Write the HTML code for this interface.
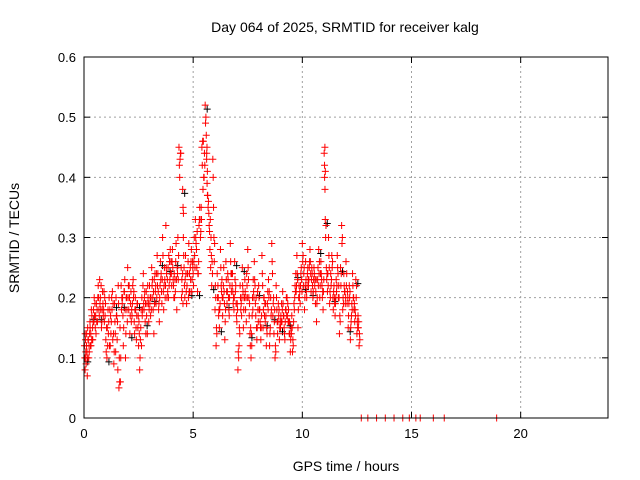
<!DOCTYPE html>
<html><head><meta charset="utf-8"><style>
html,body{margin:0;padding:0;background:#fff;}
svg{display:block;font-family:"Liberation Sans",sans-serif;}
</style></head><body>
<svg id="chart" width="640" height="480" viewBox="0 0 640 480">
<text x="345" y="32" text-anchor="middle" font-size="14">Day 064 of 2025, SRMTID for receiver kalg</text>
<text x="346" y="471" text-anchor="middle" font-size="14">GPS time / hours</text>
<text transform="translate(19,238) rotate(-90)" text-anchor="middle" font-size="14">SRMTID / TECUs</text>
<g id="grid"></g><g id="ticks"></g><g id="marks"></g>
<rect x="84" y="57" width="524" height="361" fill="none" stroke="#000" stroke-width="1"/>
</svg>
<script>
const xTicks=[0,5,10,15,20];
const yTicks=[0,0.1,0.2,0.3,0.4,0.5,0.6];
const yTickLabels=["0","0.1","0.2","0.3","0.4","0.5","0.6"];
const times=[0.02,0.05,0.08,0.12,0.15,0.2,0.24,0.28,0.32,0.36,0.4,0.45,0.5,0.55,0.6,0.65,0.7,0.75,0.8,0.85,0.9,0.95,
1.0,1.05,1.1,1.15,1.2,1.25,1.3,1.35,1.4,1.45,1.5,1.55,1.6,1.65,1.7,1.75,1.8,1.85,1.9,1.95,
2.0,2.05,2.1,2.15,2.2,2.25,2.3,2.35,2.4,2.45,2.5,2.55,2.6,2.65,2.7,2.75,2.8,2.85,2.9,2.95,
3.0,3.05,3.1,3.15,3.2,3.25,3.3,3.35,3.4,3.45,3.5,3.55,3.6,3.65,3.7,3.75,3.8,3.85,3.9,3.95,
4.0,4.05,4.1,4.15,4.2,4.25,4.3,4.35,4.4,4.45,4.5,4.52,4.55,4.6,4.65,4.7,4.75,4.8,4.85,4.9,4.95,
5.0,5.05,5.1,5.15,5.2,5.25,5.3,5.35,5.4,5.45,5.5,5.55,5.6,5.62,5.65,5.7,5.75,5.8,5.85,5.9,5.95,
6.0,6.05,6.1,6.15,6.2,6.25,6.3,6.35,6.4,6.45,6.5,6.55,6.6,6.65,6.7,6.75,6.8,6.85,6.9,6.95,
7.0,7.05,7.1,7.15,7.2,7.25,7.3,7.35,7.4,7.45,7.5,7.55,7.6,7.65,7.7,7.75,7.8,7.85,7.9,7.95,
8.0,8.05,8.1,8.15,8.2,8.25,8.3,8.35,8.4,8.45,8.5,8.55,8.6,8.65,8.7,8.75,8.8,8.85,8.9,8.95,
9.0,9.05,9.1,9.15,9.2,9.25,9.3,9.35,9.4,9.45,9.5,9.55,9.6,9.65,9.7,9.75,9.8,9.85,9.9,9.95,
10.0,10.05,10.1,10.15,10.2,10.25,10.3,10.35,10.4,10.45,10.5,10.55,10.6,10.65,10.7,10.75,10.8,10.85,10.9,10.95,
11.0,11.02,11.05,11.1,11.15,11.2,11.25,11.3,11.35,11.4,11.45,11.5,11.55,11.6,11.65,11.7,11.75,11.8,11.85,11.9,11.95,
12.0,12.05,12.1,12.15,12.2,12.25,12.3,12.35,12.4,12.45,12.5,12.55,12.6,
12.7,13.0,13.4,13.8,14.2,14.6,14.9,15.2,15.4,16.0,16.5,18.9];
const values=[0.12,0.08,0.1,0.14,0.07,0.13,0.11,0.15,0.12,0.17,0.13,0.16,0.19,0.14,0.18,0.22,0.17,0.2,0.15,0.21,0.18,0.2,
0.13,0.1,0.18,0.2,0.12,0.16,0.21,0.14,0.19,0.11,0.17,0.08,0.05,0.15,0.22,0.19,0.12,0.21,0.1,0.2,
0.25,0.18,0.14,0.21,0.17,0.23,0.16,0.2,0.13,0.19,0.12,0.08,0.15,0.2,0.22,0.18,0.16,0.21,0.14,0.19,
0.22,0.17,0.25,0.2,0.14,0.24,0.19,0.27,0.21,0.16,0.26,0.21,0.3,0.18,0.23,0.32,0.2,0.25,0.22,0.28,
0.24,0.28,0.22,0.2,0.26,0.18,0.3,0.45,0.43,0.25,0.21,0.38,0.3,0.22,0.27,0.19,0.24,0.29,0.21,0.26,0.23,
0.24,0.3,0.33,0.28,0.21,0.26,0.35,0.31,0.45,0.38,0.4,0.52,0.47,0.44,0.41,0.36,0.31,0.25,0.22,0.43,0.3,
0.18,0.12,0.24,0.2,0.15,0.28,0.21,0.17,0.25,0.13,0.26,0.19,0.23,0.17,0.29,0.21,0.24,0.2,0.26,0.22,
0.16,0.08,0.12,0.22,0.19,0.25,0.15,0.2,0.18,0.24,0.28,0.2,0.14,0.1,0.17,0.23,0.26,0.19,0.15,0.21,
0.22,0.18,0.13,0.27,0.15,0.2,0.16,0.12,0.19,0.23,0.12,0.2,0.29,0.17,0.14,0.1,0.22,0.16,0.19,0.13,
0.15,0.19,0.21,0.17,0.13,0.18,0.2,0.16,0.14,0.11,0.14,0.11,0.16,0.2,0.24,0.27,0.15,0.22,0.19,0.25,
0.29,0.22,0.18,0.26,0.2,0.25,0.23,0.28,0.21,0.24,0.21,0.24,0.19,0.16,0.23,0.28,0.2,0.26,0.22,0.18,
0.44,0.4,0.33,0.25,0.21,0.3,0.19,0.24,0.27,0.2,0.22,0.17,0.23,0.27,0.2,0.14,0.25,0.32,0.18,0.24,0.21,
0.26,0.19,0.15,0.22,0.13,0.17,0.24,0.2,0.16,0.23,0.14,0.17,0.12,
0,0,0,0,0,0,0,0,0,0,0,0];
const values2=[0.1,0.13,0.09,0.11,0.15,0.1,0.14,0.12,0.18,0.13,0.16,0.2,0.15,0.19,0.16,0.2,0.23,0.18,0.16,0.19,0.21,0.17,
0.11,0.15,0.14,0.12,0.17,0.2,0.13,0.09,0.16,0.2,0.13,0.22,0.1,0.06,0.18,0.2,0.15,0.23,0.14,0.18,
0.2,0.22,0.17,0.16,0.19,0.2,0.14,0.18,0.17,0.15,0.16,0.1,0.18,0.17,0.24,0.2,0.19,0.17,0.22,0.16,
0.19,0.2,0.22,0.18,0.23,0.21,0.24,0.22,0.18,0.2,0.23,0.19,0.27,0.22,0.2,0.25,0.23,0.2,0.26,0.24,
0.22,0.25,0.2,0.23,0.29,0.25,0.23,0.42,0.44,0.2,0.24,0.35,0.27,0.2,0.24,0.22,0.26,0.21,0.25,0.28,0.26,
0.22,0.27,0.3,0.25,0.24,0.32,0.33,0.35,0.42,0.46,0.44,0.49,0.43,0.39,0.37,0.34,0.28,0.3,0.26,0.4,0.26,
0.22,0.15,0.2,0.17,0.18,0.25,0.23,0.2,0.21,0.16,0.23,0.21,0.2,0.2,0.26,0.24,0.21,0.18,0.23,0.19,
0.19,0.11,0.15,0.2,0.17,0.22,0.18,0.23,0.2,0.22,0.25,0.17,0.12,0.14,0.2,0.21,0.23,0.17,0.13,0.18,
0.2,0.16,0.15,0.24,0.18,0.17,0.19,0.15,0.21,0.2,0.14,0.17,0.26,0.19,0.16,0.12,0.2,0.14,0.17,0.15,
0.17,0.16,0.19,0.15,0.16,0.2,0.17,0.18,0.16,0.13,0.17,0.13,0.19,0.22,0.21,0.24,0.18,0.2,0.22,0.23,
0.26,0.24,0.2,0.23,0.22,0.23,0.25,0.26,0.23,0.22,0.23,0.22,0.21,0.19,0.25,0.24,0.22,0.24,0.2,0.21,
0.42,0.38,0.3,0.23,0.24,0.27,0.21,0.22,0.25,0.18,0.2,0.19,0.21,0.25,0.22,0.17,0.22,0.29,0.2,0.22,0.19,
0.22,0.21,0.17,0.2,0.15,0.19,0.22,0.18,0.18,0.2,0.16,0.15,0.14];
const values3=[0.14,0.11,0.12,0.1,0.13,0.12,0.16,0.14,0.13,0.15,0.18,0.17,0.17,0.16,0.2,0.18,0.19,0.22,0.18,0.17,0.16,0.19,
0.15,0.12,0.16,0.18,0.14,0.18,0.19,0.11,0.14,0.17,0.16,0.19,0.06,0.1,0.2,0.17,0.21,0.18,0.2,0.16,
0.22,0.2,0.19,0.18,0.22,0.21,0.18,0.15,0.19,0.17,0.14,0.13,0.12,0.18,0.19,0.21,0.14,0.19,0.2,0.18,
0.2,0.18,0.23,0.21,0.19,0.22,0.2,0.24,0.19,0.22,0.24,0.23,0.21,0.25,0.22,0.24,0.21,0.27,0.23,0.26,
0.26,0.23,0.24,0.21,0.23,0.24,0.27,0.4,0.44,0.23,0.19,0.34,0.25,0.23,0.21,0.24,0.2,0.24,0.23,0.21,0.25,
0.26,0.25,0.29,0.31,0.24,0.33,0.3,0.33,0.46,0.4,0.42,0.5,0.45,0.37,0.35,0.32,0.33,0.27,0.24,0.35,0.29,
0.2,0.14,0.22,0.18,0.19,0.22,0.2,0.22,0.19,0.18,0.21,0.24,0.18,0.22,0.24,0.22,0.19,0.2,0.21,0.17,
0.18,0.1,0.14,0.18,0.2,0.21,0.2,0.21,0.16,0.2,0.23,0.19,0.15,0.12,0.18,0.2,0.22,0.2,0.15,0.16,
0.18,0.15,0.17,0.22,0.2,0.19,0.17,0.14,0.18,0.21,0.15,0.18,0.24,0.2,0.18,0.11,0.18,0.16,0.18,0.16,
0.16,0.18,0.17,0.14,0.18,0.17,0.19,0.16,0.14,0.15,0.15,0.12,0.18,0.21,0.22,0.23,0.2,0.21,0.24,0.21,
0.27,0.25,0.22,0.21,0.24,0.22,0.26,0.24,0.25,0.2,0.25,0.23,0.23,0.2,0.22,0.26,0.24,0.23,0.21,0.23,
0.45,0.41,0.32,0.24,0.22,0.25,0.2,0.23,0.26,0.21,0.19,0.2,0.22,0.24,0.2,0.16,0.24,0.3,0.19,0.21,0.2,
0.24,0.2,0.19,0.21,0.16,0.18,0.2,0.19,0.17,0.22,0.15,0.16,0.13];
const ns="http://www.w3.org/2000/svg";
const X0=84,X1=608,Y0=418,Y1=57;
const xs=v=>X0+(v/24)*(X1-X0);
const ys=v=>Y0-(v/0.6)*(Y0-Y1);
const grid=document.getElementById('grid'),ticks=document.getElementById('ticks'),marks=document.getElementById('marks');
function mk(tag,a,p){const e=document.createElementNS(ns,tag);for(const k in a)e.setAttribute(k,a[k]);p.appendChild(e);return e;}
xTicks.forEach((t,i)=>{
 const x=xs(t);
 if(t>0){const g=mk('line',{x1:x,y1:Y0,x2:x,y2:Y1,stroke:'#a0a0a0','stroke-dasharray':'2,3'},grid);
 
 }
 mk('line',{x1:x,y1:Y0,x2:x,y2:Y0-6,stroke:'#000'},ticks);
 mk('line',{x1:x,y1:Y1,x2:x,y2:Y1+6,stroke:'#000'},ticks);
 const l=mk('text',{x:x,y:Y0+20,'text-anchor':'middle','font-size':13},ticks);l.textContent=String(t);
 
 
});
yTicks.forEach((t,i)=>{
 const y=ys(t);
 if(t>0&&t<0.6){const g=mk('line',{x1:X0,y1:y,x2:X1,y2:y,stroke:'#a0a0a0','stroke-dasharray':'2,3'},grid);
 
 }
 mk('line',{x1:X0,y1:y,x2:X0+6,y2:y,stroke:'#000'},ticks);
 mk('line',{x1:X1,y1:y,x2:X1-6,y2:y,stroke:'#000'},ticks);
 const l=mk('text',{x:X0-8,y:y+5,'text-anchor':'end','font-size':13},ticks);l.textContent=yTickLabels[i];
 
 
});
function plus(x,y,c){
 return mk('path',{d:`M${x-3.5},${y}H${x+3.5}M${x},${y-3.5}V${y+3.5}`,stroke:c,'stroke-width':1,fill:'none'},marks);
}
times.forEach((t,i)=>{
 if(i%7===2&&values[i]>0){const b=plus(xs(t)+2,ys(values[i])+4,'#000');
 
 }
});
times.forEach((t,i)=>{
 const p=plus(xs(t),ys(values[i]),'#ff0000');
 
 
 if(values2[i]!==undefined){
  const p2=plus(xs(t+0.017),ys(values2[i]),'#ff0000');
  
  
 }
 if(values3[i]!==undefined){
  const p3=plus(xs(t+0.033),ys(values3[i]),'#ff0000');
  
  
 }
});
</script>
</body></html>
